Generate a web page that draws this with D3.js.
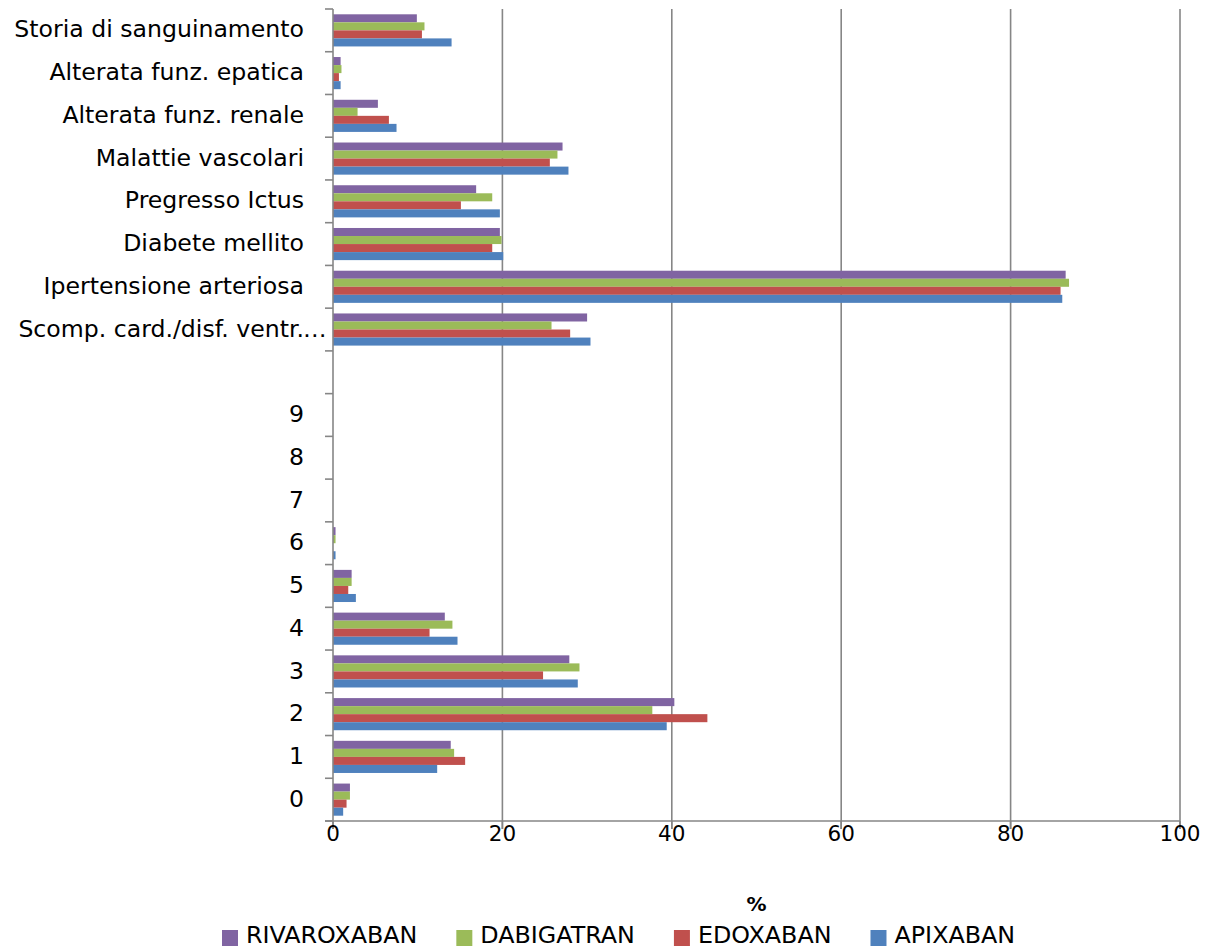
<!DOCTYPE html>
<html><head><meta charset="utf-8">
<script src="https://cdn.jsdelivr.net/npm/d3@7"></script>
<style>
body{margin:0;background:#fff}
svg{display:block}
text{font-family:"DejaVu Sans",sans-serif;fill:#000}
</style>
</head><body>
<svg id="c" width="1209" height="950"></svg>
<script>
const categories = ["Storia di sanguinamento","Alterata funz. epatica","Alterata funz. renale","Malattie vascolari","Pregresso Ictus","Diabete mellito","Ipertensione arteriosa","Scomp. card./disf. ventr.…","","9","8","7","6","5","4","3","2","1","0"];
const seriesNames = ["RIVAROXABAN","DABIGATRAN","EDOXABAN","APIXABAN"];
const seriesColors = ["#8064A2","#9BBB59","#C0504D","#4F81BD"];
const rivaroxaban = [9.9,0.9,5.3,27.1,16.9,19.7,86.5,30.0,null,0,0,0,0.3,2.2,13.2,27.9,40.3,13.9,2.0];
const dabigatran  = [10.8,1.0,2.9,26.5,18.8,19.9,86.9,25.8,null,0,0,0,0.3,2.2,14.1,29.1,37.7,14.3,2.0];
const edoxaban    = [10.5,0.7,6.6,25.6,15.1,18.8,85.9,28.0,null,0,0,0,0,1.8,11.4,24.8,44.2,15.6,1.6];
const apixaban    = [14.0,0.9,7.5,27.8,19.7,20.1,86.1,30.4,null,0,0,0,0.3,2.7,14.7,28.9,39.4,12.3,1.2];
const seriesValues = [rivaroxaban, dabigatran, edoxaban, apixaban];
const xTicks = [0,20,40,60,80,100];
const xTitle = "%";

const svg = d3.select("#c");
const x = d3.scaleLinear().domain([0,100]).range([333,1180]);
const y = d3.scaleBand().domain(categories).range([9,821]).paddingInner(0.248).paddingOuter(0.124);
const inner = d3.scaleBand().domain(seriesNames).range([0, y.bandwidth()]);
const step = y.step();
const gridColor = "#868686";

// gridlines
svg.append("g").selectAll("line").data(xTicks.filter(d=>d>0)).join("line")
  .attr("x1", d=>x(d)).attr("x2", d=>x(d)).attr("y1", 9).attr("y2", 829)
  .attr("stroke", gridColor).attr("stroke-width", 1.6);

// bars
const bars = svg.append("g");
categories.forEach((c,i)=>{
  seriesNames.forEach((s,k)=>{
    const v = seriesValues[k][i];
    if (v === null || v === undefined) return;
    bars.append("rect")
      .attr("x", x(0)).attr("y", y(c)+inner(s))
      .attr("width", Math.max(0, x(v)-x(0))).attr("height", inner.bandwidth())
      .attr("fill", seriesColors[k]);
  });
});

// y axis
const bounds = d3.range(categories.length+1).map(i=> y(categories[0]) - step*0.124 + i*step);
svg.append("line").attr("x1", x(0)).attr("x2", x(0)).attr("y1", 9).attr("y2", 829)
  .attr("stroke", gridColor).attr("stroke-width", 1.6);
svg.append("g").selectAll("line").data(bounds).join("line")
  .attr("x1", x(0)-8).attr("x2", x(0)).attr("y1", d=>d).attr("y2", d=>d)
  .attr("stroke", gridColor).attr("stroke-width", 1.6);

// x axis
svg.append("line").attr("x1", x(0)-8).attr("x2", x(100)).attr("y1", 821).attr("y2", 821)
  .attr("stroke", gridColor).attr("stroke-width", 1.6);
svg.append("g").selectAll("line").data(xTicks).join("line")
  .attr("x1", d=>x(d)).attr("x2", d=>x(d)).attr("y1", 821).attr("y2", 829)
  .attr("stroke", gridColor).attr("stroke-width", 1.6);
svg.append("g").selectAll("text").data(xTicks).join("text")
  .attr("x", d=>x(d)).attr("y", 841).attr("text-anchor","middle")
  .style("font-size","21.5px").text(d=>d);

// y labels
const yl = svg.append("g");
const ySize = "23.6px";
categories.forEach(c=>{
  if (!c) return;
  const t = yl.append("text").attr("x", 304).attr("y", y(c)+y.bandwidth()/2).attr("dy","0.3em")
    .attr("text-anchor","end").style("font-size",ySize);
  if (c.endsWith("…")) {
    t.text(c.slice(0,-1));
    yl.append("text").attr("x", 303).attr("y", y(c)+y.bandwidth()/2).attr("dy","0.3em")
      .style("font-size",ySize).text("…");
  } else t.text(c);
});

// x title
svg.append("text").attr("x", (x(0)+x(100))/2).attr("y", 911).attr("text-anchor","middle")
  .style("font-size","20px").style("font-weight","bold").text(xTitle);

// legend
const lg = svg.append("g");
const items = seriesNames.map((s,k)=>{
  const g = lg.append("g");
  g.append("rect").attr("width",16).attr("height",16).attr("y",930).attr("fill",seriesColors[k]);
  const t = g.append("text").attr("x",24).attr("y",943).style("font-size","23.8px").text(s);
  return {g, w: 24 + t.node().getComputedTextLength()};
});
const gap = 39;
let cx = 222;
items.forEach(it=>{ it.g.attr("transform", `translate(${cx},0)`); cx += it.w + gap; });
</script>
</body></html>
